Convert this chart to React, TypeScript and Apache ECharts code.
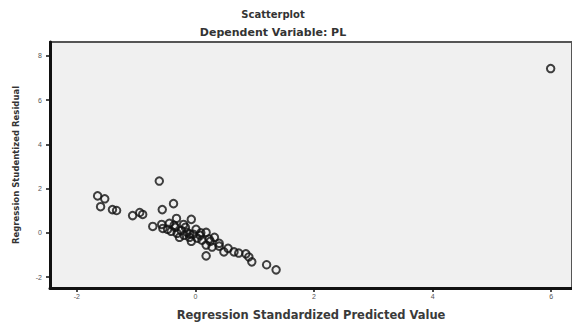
import React, { useEffect, useRef } from "react";
import * as echarts from "echarts";

const xTicks = [-2, 0, 2, 4, 6];
const yTicks = [-2, 0, 2, 4, 6, 8];

// [standardized predicted, studentized residual]
const points: [number, number][] = [
  [-1.65, 1.67], [-1.53, 1.54], [-1.6, 1.18], [-1.4, 1.05], [-1.33, 1.01],
  [-1.06, 0.78], [-0.94, 0.92], [-0.89, 0.83], [-0.61, 2.34], [-0.37, 1.32],
  [-0.56, 1.05], [-0.32, 0.65], [-0.07, 0.61], [-0.72, 0.29], [-0.57, 0.38],
  [-0.2, 0.38], [0.01, 0.16], [0.18, 0.02], [0.32, -0.2], [0.18, -0.55],
  [0.11, -0.33], [0.4, -0.6], [0.48, -0.86], [0.18, -1.04], [0.65, -0.86],
  [0.73, -0.91], [0.85, -0.95], [0.9, -1.09], [0.95, -1.31], [1.2, -1.44],
  [1.36, -1.67], [-0.47, 0.16], [-0.41, 0.07], [-0.34, 0.25], [-0.31, -0.02],
  [-0.24, 0.11], [-0.19, -0.11], [-0.14, 0.02], [-0.27, -0.2], [-0.1, -0.2],
  [-0.04, -0.06], [0.03, -0.24], [0.08, -0.11], [-0.36, 0.34], [-0.44, 0.43],
  [-0.07, -0.38], [0.25, -0.38], [0.28, -0.64], [-0.17, 0.25], [-0.55, 0.2],
  [0.09, 0.0], [0.23, -0.28], [0.4, -0.47], [0.55, -0.7], [-0.1, -0.05],
  [5.99, 7.42],
];

export default function App() {
  const ref = useRef<HTMLDivElement>(null);
  useEffect(() => {
    document.body.style.margin = "0";
    const chart = echarts.init(ref.current!, null, { renderer: "svg" });
    const font = "'DejaVu Sans', Verdana, sans-serif";
    const tickFont = "'Liberation Sans', Arial, sans-serif";
    chart.setOption({
      animation: false,
      backgroundColor: "#ffffff",
      title: [
        {
          text: "Scatterplot",
          left: 268,
          top: 4,
          textAlign: "center",
          textStyle: { fontSize: 10, fontWeight: "bold", color: "#333", fontFamily: font },
        },
        {
          text: "Dependent Variable: PL",
          left: 268,
          top: 22,
          textAlign: "center",
          textStyle: { fontSize: 11, fontWeight: "bold", color: "#333", fontFamily: font },
        },
      ],
      grid: {
        left: 50,
        top: 42,
        right: -3,
        bottom: 34,
        show: true,
        backgroundColor: "#f0f0f0",
        borderColor: "#555",
        borderWidth: 2,
      },
      xAxis: {
        type: "value",
        min: -2.453,
        max: 6.35,
        splitLine: { show: false },
        axisLine: { show: true, onZero: false, lineStyle: { color: "#111", width: 3 } },
        axisTick: { show: true, length: 4, customValues: xTicks, lineStyle: { color: "#111", width: 1.5 } },
        axisLabel: { customValues: xTicks, fontSize: 7, color: "#555", margin: 5, fontFamily: tickFont },
        name: "Regression Standardized Predicted Value",
        nameLocation: "middle",
        nameGap: 21,
        nameTextStyle: { fontSize: 11.5, fontWeight: "bold", color: "#3a3a3a", fontFamily: font },
      },
      yAxis: {
        type: "value",
        min: -2.49,
        max: 8.62,
        splitLine: { show: false },
        axisLine: { show: true, onZero: false, lineStyle: { color: "#111", width: 3 } },
        axisTick: { show: true, length: 4, customValues: yTicks, lineStyle: { color: "#111", width: 1.5 } },
        axisLabel: { customValues: yTicks, fontSize: 7, color: "#555", margin: 8, fontFamily: tickFont },
        name: "Regression Studentized Residual",
        nameLocation: "middle",
        nameGap: 30,
        nameTextStyle: { fontSize: 8.5, fontWeight: "bold", color: "#333", fontFamily: font },
      },
      series: [
        {
          type: "scatter",
          data: points,
          symbol: "circle",
          symbolSize: 7.5,
          itemStyle: { color: "rgba(0,0,0,0)", borderColor: "#111", borderWidth: 2 },
        },
      ],
    });
    return () => chart.dispose();
  }, []);
  return <div ref={ref} style={{ width: 572, height: 326 }} />;
}
